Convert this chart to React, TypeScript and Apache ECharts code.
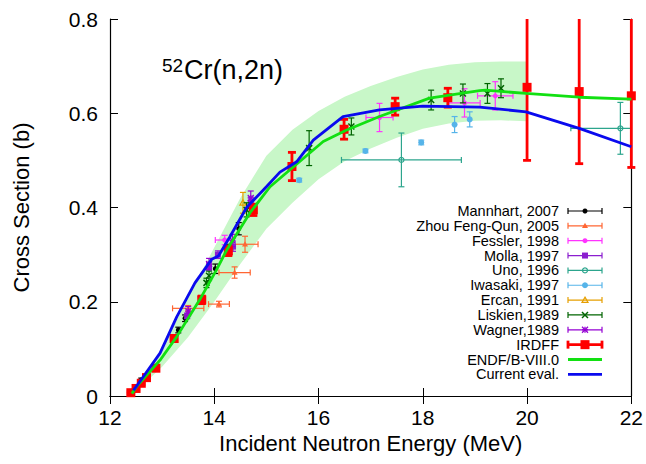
import React, { useEffect, useRef } from "react";
import * as echarts from "echarts";

const FONT = '"Liberation Sans", Arial, Helvetica, sans-serif';

// Axis ranges / tick settings
const xMin = 12, xMax = 22, xStep = 2;
const yMin = 0, yMax = 0.8, yStep = 0.2;

// Experimental data: [E (MeV), sigma (b), dE, dSigma]
const mannhart = [
  [12.6, 0.034, 0, 0.004],
  [13.31, 0.14, 0, 0.006],
  [13.44, 0.165, 0, 0.007],
  [14.02, 0.27, 0, 0.01],
  [14.47, 0.355, 0, 0.013],
];
const zhou = [
  [13.5, 0.186, 0.3, 0.006],
  [14.09, 0.195, 0.2, 0.006],
  [14.39, 0.262, 0.3, 0.012],
  [14.59, 0.322, 0.25, 0.017],
];
const fessler = [
  [14.2, 0.331, 0.18, 0.01],
  [17.17, 0.591, 0.26, 0.03],
  [18.8, 0.622, 0.3, 0.03],
  [19.39, 0.637, 0.34, 0.03],
];
const molla = [
  [13.48, 0.17, 0, 0.006],
  [13.9, 0.275, 0, 0.008],
  [14.07, 0.3, 0, 0.008],
  [14.36, 0.317, 0, 0.01],
  [14.7, 0.41, 0, 0.012],
];
const uno = [
  [17.59, 0.501, 1.15, 0.057],
  [21.79, 0.568, 0.95, 0.055],
];
const iwasaki = [
  [12.47, 0.012, 0, 0.002],
  [15.63, 0.458, 0, 0.004],
  [16.9, 0.52, 0, 0.004],
  [17.97, 0.538, 0, 0.005],
  [18.61, 0.576, 0, 0.017],
  [18.9, 0.587, 0, 0.016],
];
const ercan = [
  [14.55, 0.41, 0, 0.022],
];
const liskien = [
  [13.85, 0.24, 0, 0.01],
  [13.9, 0.255, 0, 0.01],
  [14.25, 0.31, 0, 0.012],
  [14.62, 0.395, 0, 0.015],
  [15.82, 0.526, 0, 0.037],
  [16.63, 0.572, 0, 0.018],
  [18.16, 0.628, 0, 0.021],
  [18.77, 0.642, 0, 0.02],
  [19.24, 0.642, 0, 0.021],
  [19.5, 0.653, 0, 0.02],
];
const wagner = [
  [13.5, 0.18, 0, 0.01],
  [13.9, 0.28, 0, 0.012],
  [14.35, 0.33, 0, 0.013],
  [14.7, 0.42, 0, 0.015],
];

// IRDFF evaluation points
const irdffE = [12.4, 12.5, 12.6, 12.7, 12.88, 13.23, 13.76, 14.27, 14.75, 15.49, 16.49, 17.47, 18.48, 20, 21, 22];
const irdffXS = [0.007, 0.016, 0.027, 0.039, 0.059, 0.122, 0.204, 0.308, 0.395, 0.487, 0.566, 0.614, 0.633, 0.655, 0.646, 0.637];
const irdffErrLo = [0.002, 0.002, 0.003, 0.003, 0.004, 0.006, 0.008, 0.01, 0.012, 0.03, 0.021, 0.018, 0.02, 0.155, 0.153, 0.152];
const irdffErrHi = [0.002, 0.002, 0.003, 0.003, 0.004, 0.006, 0.008, 0.01, 0.012, 0.03, 0.021, 0.018, 0.02, 0.2, 0.2, 0.2];

// ENDF/B-VIII.0 curve
const endfE = [12.42, 12.51, 12.96, 13.28, 13.72, 14.04, 14.24, 14.68, 15.07, 16.09, 16.53, 17.17, 18.13, 19.09, 19.2, 19.98, 21, 22];
const endfXS = [0.005, 0.02, 0.076, 0.126, 0.204, 0.267, 0.31, 0.388, 0.444, 0.54, 0.564, 0.593, 0.632, 0.648, 0.649, 0.642, 0.634, 0.63];

// Current evaluation curve
const curE = [12.45, 12.6, 12.96, 13.28, 13.63, 13.95, 14.08, 14.3, 14.62, 15.0, 15.26, 15.58, 15.9, 16.47, 17.17, 18.0, 19.09, 19.98, 21.0, 22.0];
const curXS = [0.012, 0.035, 0.091, 0.168, 0.24, 0.29, 0.297, 0.338, 0.4, 0.444, 0.475, 0.497, 0.543, 0.593, 0.607, 0.615, 0.613, 0.603, 0.568, 0.529];

// ENDF uncertainty band
const bandE = [12.45, 13.0, 13.5, 14.0, 14.5, 15.0, 15.5, 16.0, 16.5, 17.0, 17.5, 18.0, 18.5, 19.0, 19.5, 20.0];
const bandLo = [0.005, 0.062, 0.125, 0.2, 0.28, 0.355, 0.41, 0.46, 0.498, 0.525, 0.548, 0.567, 0.578, 0.584, 0.585, 0.583];
const bandHi = [0.015, 0.1, 0.21, 0.315, 0.42, 0.51, 0.565, 0.605, 0.635, 0.658, 0.677, 0.693, 0.703, 0.708, 0.71, 0.71];

const legendNames = [
  "Mannhart, 2007", "Zhou Feng-Qun, 2005", "Fessler, 1998", "Molla, 1997", "Uno, 1996",
  "Iwasaki, 1997", "Ercan, 1991", "Liskien,1989", "Wagner,1989", "IRDFF", "ENDF/B-VIII.0", "Current eval.",
];

const C_ENDF = "#12e012";
const C_CUR = "#0a0aee";
const C_BAND = "#c8f7c8";

type Kind = "circle" | "ocircle" | "square" | "triangle" | "otriangle" | "cross" | "star";

const expSets: { name: string; data: number[][]; color: string; kind: Kind; size: number }[] = [
  { name: legendNames[0], data: mannhart, color: "#000000", kind: "circle", size: 5 },
  { name: legendNames[1], data: zhou, color: "#ff6633", kind: "triangle", size: 6 },
  { name: legendNames[2], data: fessler, color: "#ff33ff", kind: "circle", size: 5 },
  { name: legendNames[3], data: molla, color: "#8b1ecf", kind: "square", size: 6 },
  { name: legendNames[4], data: uno, color: "#2ca58d", kind: "ocircle", size: 5 },
  { name: legendNames[5], data: iwasaki, color: "#56b4e9", kind: "circle", size: 6 },
  { name: legendNames[6], data: ercan, color: "#e69f00", kind: "otriangle", size: 6 },
  { name: legendNames[7], data: liskien, color: "#006400", kind: "cross", size: 6 },
  { name: legendNames[8], data: wagner, color: "#9400d3", kind: "star", size: 6 },
];

function markerEls(kind: Kind, cx: number, cy: number, s: number, color: string): any[] {
  const h = s / 2;
  switch (kind) {
    case "circle":
      return [{ type: "circle", shape: { cx, cy, r: h }, style: { fill: color } }];
    case "ocircle":
      return [{ type: "circle", shape: { cx, cy, r: h }, style: { fill: "none", stroke: color, lineWidth: 1.2 } }];
    case "square":
      return [{ type: "rect", shape: { x: cx - h, y: cy - h, width: s, height: s }, style: { fill: color } }];
    case "triangle":
    case "otriangle": {
      const pts = [[cx, cy - h], [cx + h, cy + h * 0.75], [cx - h, cy + h * 0.75]];
      return [{
        type: "polygon", shape: { points: pts },
        style: kind === "triangle" ? { fill: color } : { fill: "none", stroke: color, lineWidth: 1.2 },
      }];
    }
    case "cross":
      return [
        { type: "line", shape: { x1: cx - h, y1: cy - h, x2: cx + h, y2: cy + h }, style: { stroke: color, lineWidth: 1.5 } },
        { type: "line", shape: { x1: cx - h, y1: cy + h, x2: cx + h, y2: cy - h }, style: { stroke: color, lineWidth: 1.5 } },
      ];
    case "star":
      return [
        { type: "line", shape: { x1: cx - h, y1: cy - h, x2: cx + h, y2: cy + h }, style: { stroke: color, lineWidth: 1.3 } },
        { type: "line", shape: { x1: cx - h, y1: cy + h, x2: cx + h, y2: cy - h }, style: { stroke: color, lineWidth: 1.3 } },
        { type: "line", shape: { x1: cx - h, y1: cy, x2: cx + h, y2: cy }, style: { stroke: color, lineWidth: 1.3 } },
        { type: "line", shape: { x1: cx, y1: cy - h, x2: cx, y2: cy + h }, style: { stroke: color, lineWidth: 1.3 } },
      ];
  }
  return [];
}

function makeRender(kind: Kind, color: string, lw: number, cap: number, size: number) {
  return (params: any, api: any) => {
    const E = api.value(0), v = api.value(1), dE = api.value(2), dLo = api.value(3), dHi = api.value(4);
    const cs = params.coordSys;
    const L = cs.x, R = cs.x + cs.width, T = cs.y, B = cs.y + cs.height;
    const c = api.coord([E, v]);
    const kids: any[] = [];
    const ls = { stroke: color, lineWidth: lw };
    if (dLo > 0 || dHi > 0) {
      const pLo = api.coord([E, v - dLo]);
      const pHi = api.coord([E, v + dHi]);
      const yl = Math.min(pLo[1], B), yh = Math.max(pHi[1], T);
      kids.push({ type: "line", shape: { x1: c[0], y1: yl, x2: c[0], y2: yh }, style: ls });
      if (pLo[1] <= B) kids.push({ type: "line", shape: { x1: c[0] - cap / 2, y1: pLo[1], x2: c[0] + cap / 2, y2: pLo[1] }, style: ls });
      if (pHi[1] >= T) kids.push({ type: "line", shape: { x1: c[0] - cap / 2, y1: pHi[1], x2: c[0] + cap / 2, y2: pHi[1] }, style: ls });
    }
    if (dE > 0) {
      const pL = api.coord([E - dE, v]);
      const pR = api.coord([E + dE, v]);
      const xl = Math.max(pL[0], L), xr = Math.min(pR[0], R);
      kids.push({ type: "line", shape: { x1: xl, y1: c[1], x2: xr, y2: c[1] }, style: ls });
      if (pL[0] >= L) kids.push({ type: "line", shape: { x1: pL[0], y1: c[1] - cap / 2, x2: pL[0], y2: c[1] + cap / 2 }, style: ls });
      if (pR[0] <= R) kids.push({ type: "line", shape: { x1: pR[0], y1: c[1] - cap / 2, x2: pR[0], y2: c[1] + cap / 2 }, style: ls });
    }
    kids.push(...markerEls(kind, c[0], c[1], size, color));
    return { type: "group", children: kids };
  };
}

function legendGraphics(): any[] {
  const els: any[] = [];
  const textRight = 559, x1 = 568, x2 = 602, mx = 585, y0 = 211, dy = 14.85;
  legendNames.forEach((name, i) => {
    const y = y0 + i * dy;
    els.push({
      type: "text", x: textRight, y,
      style: { text: name, fill: "#000", font: `14.5px ${FONT}`, textAlign: "right", textVerticalAlign: "middle" },
    });
    if (i < expSets.length) {
      const s = expSets[i];
      const ls = { stroke: s.color, lineWidth: 1.2 };
      els.push({ type: "line", shape: { x1, y1: y, x2, y2: y }, style: ls });
      els.push({ type: "line", shape: { x1, y1: y - 3, x2: x1, y2: y + 3 }, style: ls });
      els.push({ type: "line", shape: { x1: x2, y1: y - 3, x2, y2: y + 3 }, style: ls });
      els.push(...markerEls(s.kind, mx, y, s.size, s.color));
    } else if (name === "IRDFF") {
      const ls = { stroke: "#ff0000", lineWidth: 2.8 };
      els.push({ type: "line", shape: { x1, y1: y, x2, y2: y }, style: ls });
      els.push({ type: "line", shape: { x1, y1: y - 4, x2: x1, y2: y + 4 }, style: ls });
      els.push({ type: "line", shape: { x1: x2, y1: y - 4, x2, y2: y + 4 }, style: ls });
      els.push(...markerEls("square", mx, y, 9, "#ff0000"));
    } else {
      const col = name === "ENDF/B-VIII.0" ? C_ENDF : C_CUR;
      els.push({ type: "line", shape: { x1, y1: y, x2, y2: y }, style: { stroke: col, lineWidth: 2.8 } });
    }
  });
  return els;
}

export default function App() {
  const ref = useRef<HTMLDivElement>(null);
  useEffect(() => {
    if (!ref.current) return;
    const chart = echarts.init(ref.current, undefined, { renderer: "svg" });

    const axisCommon = {
      type: "value",
      axisLine: { show: true, lineStyle: { color: "#000", width: 1.2 } },
      axisTick: { show: true, inside: true, length: 8, lineStyle: { color: "#000", width: 1 } },
      splitLine: { show: false },
    };

    const expSeries = expSets.map((s) => ({
      type: "custom",
      name: s.name,
      xAxisIndex: 0, yAxisIndex: 0,
      clip: false,
      z: 3,
      encode: { x: 0, y: 1 },
      data: s.data.map((d) => [d[0], d[1], d[2], d[3], d[3]]),
      renderItem: makeRender(s.kind, s.color, 1.2, 6, s.size),
    }));

    const option: any = {
      animation: false,
      grid: { left: 110, right: 14, top: 19, bottom: 68, show: false },
      xAxis: [
        {
          ...axisCommon, min: xMin, max: xMax, interval: xStep, position: "bottom",
          name: "Incident Neutron Energy (MeV)", nameLocation: "middle", nameGap: 34,
          nameTextStyle: { color: "#000", fontSize: 22, fontFamily: FONT },
          axisLabel: { color: "#000", fontSize: 21, fontFamily: FONT, margin: 11 },
        },
        {
          ...axisCommon, min: xMin, max: xMax, interval: xStep, position: "top",
          axisLabel: { show: false },
        },
      ],
      yAxis: [
        {
          ...axisCommon, min: yMin, max: yMax, interval: yStep, position: "left",
          name: "Cross Section (b)", nameLocation: "middle", nameGap: 78,
          nameTextStyle: { color: "#000", fontSize: 22, fontFamily: FONT },
          axisLabel: { color: "#000", fontSize: 21, fontFamily: FONT, margin: 12, formatter: (v: number) => String(+v.toFixed(1)) },
        },
        {
          ...axisCommon, min: yMin, max: yMax, interval: yStep, position: "right",
          axisLabel: { show: false },
        },
      ],
      graphic: [
        { type: "text", x: 162, y: 65, style: { text: "52", fill: "#000", font: `19px ${FONT}`, textVerticalAlign: "middle" } },
        { type: "text", x: 184, y: 70, style: { text: "Cr(n,2n)", fill: "#000", font: `27px ${FONT}`, textVerticalAlign: "middle" } },
        ...legendGraphics(),
      ],
      series: [
        {
          type: "custom",
          name: "ENDF band",
          z: 1,
          clip: false,
          encode: { x: 0, y: 1 },
          data: [[bandE[0], bandLo[0]]],
          renderItem: (params: any, api: any) => {
            const pts: number[][] = [];
            bandE.forEach((e, i) => pts.push(api.coord([e, bandHi[i]])));
            for (let i = bandE.length - 1; i >= 0; i--) pts.push(api.coord([bandE[i], bandLo[i]]));
            return { type: "polygon", shape: { points: pts }, style: { fill: C_BAND } };
          },
        },
        ...expSeries,
        {
          type: "custom",
          name: "IRDFF",
          clip: false,
          z: 4,
          encode: { x: 0, y: 1 },
          data: irdffE.map((e, i) => [e, irdffXS[i], 0, irdffErrLo[i], irdffErrHi[i]]),
          renderItem: makeRender("square", "#ff0000", 2.8, 8, 9),
        },
        {
          type: "line",
          name: "ENDF/B-VIII.0",
          z: 5,
          showSymbol: false,
          symbol: "none",
          data: endfE.map((e, i) => [e, endfXS[i]]),
          lineStyle: { color: C_ENDF, width: 2.8 },
        },
        {
          type: "line",
          name: "Current eval.",
          z: 6,
          showSymbol: false,
          symbol: "none",
          data: curE.map((e, i) => [e, curXS[i]]),
          lineStyle: { color: C_CUR, width: 2.8 },
        },
      ],
    };
    chart.setOption(option);
    return () => chart.dispose();
  }, []);

  return (
    <div
      ref={ref}
      style={{ position: "fixed", left: 0, top: 0, width: 646, height: 464, background: "#fff" }}
    />
  );
}
